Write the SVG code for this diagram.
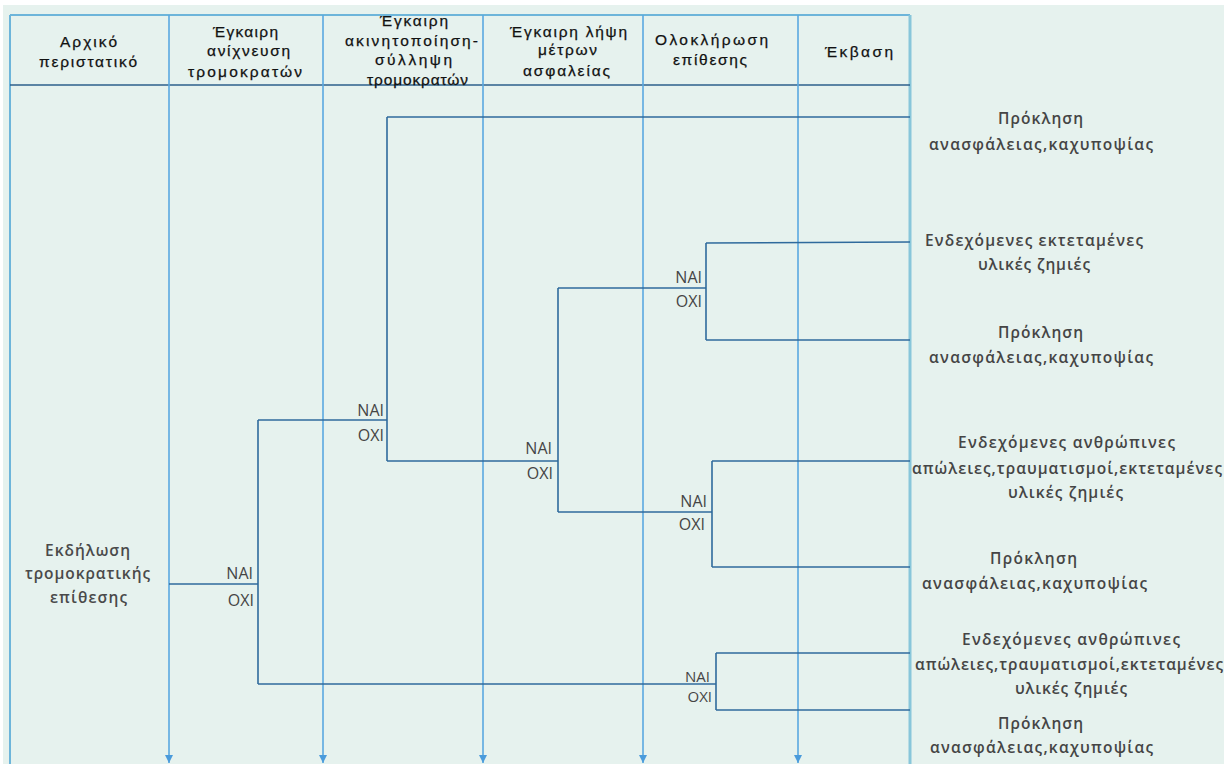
<svg xmlns="http://www.w3.org/2000/svg" width="1224" height="764" viewBox="0 0 1224 764">
<defs>
<marker id="arr" viewBox="0 0 8 8" refX="8" refY="4" markerWidth="8" markerHeight="8" markerUnits="userSpaceOnUse" orient="auto">
<path d="M0,0 L8,4 L0,8 Z" fill="#4A9BDB"/>
</marker>
<style>
.hd{font-family:"Liberation Sans",Arial,sans-serif;font-size:15.5px;fill:#111111;stroke:#111111;stroke-width:0.25}
.oc{font-family:"Open Sans","Liberation Sans",sans-serif;font-size:15.5px;font-weight:600;fill:#454545}
.yn{font-family:"Open Sans","Liberation Sans",sans-serif;font-size:16px;fill:#454545;text-anchor:end}
.col{stroke:#5AA8E0;stroke-width:1.6;fill:none}
.br{stroke:#6DB5DA;stroke-width:2;fill:none}
.ln{stroke:#2F6A9C;stroke-width:1.6;fill:none}
</style>
</defs>
<rect x="0" y="0" width="1224" height="764" fill="#ffffff"/>
<rect x="3" y="5" width="1221" height="759" fill="#E6F2EE"/>

<g id="frame">
<line class="br" x1="10" y1="15" x2="910" y2="15"/>
<line class="br" x1="10" y1="15" x2="10" y2="764"/>
<line x1="910" y1="15" x2="910" y2="764" stroke="#88C6DA" stroke-width="3"/>
<line x1="10" y1="85" x2="910" y2="85" stroke="#2D5F8B" stroke-width="1.6"/>
<line class="col" x1="169" y1="15" x2="169" y2="763" marker-end="url(#arr)"/>
<line class="col" x1="323" y1="15" x2="323" y2="763" marker-end="url(#arr)"/>
<line class="col" x1="483" y1="15" x2="483" y2="763" marker-end="url(#arr)"/>
<line class="col" x1="643" y1="15" x2="643" y2="763" marker-end="url(#arr)"/>
<line class="col" x1="798" y1="15" x2="798" y2="763" marker-end="url(#arr)"/>
</g>

<g id="header-1"><text class="hd"><tspan x="60" y="47" textLength="57" lengthAdjust="spacing">Αρχικό</tspan><tspan x="39" y="67" textLength="98" lengthAdjust="spacing">περιστατικό</tspan></text></g>
<g id="header-2"><text class="hd"><tspan x="213" y="37" textLength="65" lengthAdjust="spacing">Έγκαιρη</tspan><tspan x="207" y="56" textLength="83" lengthAdjust="spacing">ανίχνευση</tspan><tspan x="188" y="77" textLength="114" lengthAdjust="spacing">τρομοκρατών</tspan></text></g>
<g id="header-3"><text class="hd"><tspan x="380" y="26" textLength="68" lengthAdjust="spacing">Έγκαιρη</tspan><tspan x="345" y="46" textLength="133" lengthAdjust="spacing">ακινητοποίηση-</tspan><tspan x="375" y="65" textLength="77" lengthAdjust="spacing">σύλληψη</tspan><tspan x="367" y="85" textLength="101" lengthAdjust="spacing">τρομοκρατών</tspan></text></g>
<g id="header-4"><text class="hd"><tspan x="510" y="37" textLength="117" lengthAdjust="spacing">Έγκαιρη λήψη</tspan><tspan x="538" y="55" textLength="59" lengthAdjust="spacing">μέτρων</tspan><tspan x="523" y="76" textLength="87" lengthAdjust="spacing">ασφαλείας</tspan></text></g>
<g id="header-5"><text class="hd"><tspan x="655" y="45" textLength="113" lengthAdjust="spacing">Ολοκλήρωση</tspan><tspan x="673" y="65" textLength="74" lengthAdjust="spacing">επίθεσης</tspan></text></g>
<g id="header-6"><text class="hd"><tspan x="825" y="57" textLength="68" lengthAdjust="spacing">Έκβαση</tspan></text></g>

<g id="connectors">
<polyline class="ln" points="169,584 258,584"/>
<polyline class="ln" points="258,420 258,684"/>
<polyline class="ln" points="258,420 387,420"/>
<polyline class="ln" points="387,117 387,461"/>
<polyline class="ln" points="387,117 910,117"/>
<polyline class="ln" points="387,461 558,461"/>
<polyline class="ln" points="558,288 558,512"/>
<polyline class="ln" points="558,288 706,288"/>
<polyline class="ln" points="706,243 706,340"/>
<polyline class="ln" points="706,243 910,242"/>
<polyline class="ln" points="706,340 910,340"/>
<polyline class="ln" points="558,512 712,512"/>
<polyline class="ln" points="712,461 712,567"/>
<polyline class="ln" points="712,461 910,461"/>
<polyline class="ln" points="712,567 910,567"/>
<polyline class="ln" points="258,684 716,684"/>
<polyline class="ln" points="716,653 716,710"/>
<polyline class="ln" points="716,653 910,653"/>
<polyline class="ln" points="716,710 910,710"/>
</g>

<g id="start"><text class="oc" style="fill:#4a4a4a"><tspan x="45" y="556" textLength="85" lengthAdjust="spacing">Εκδήλωση</tspan><tspan x="25" y="579" textLength="125" lengthAdjust="spacing">τρομοκρατικής</tspan><tspan x="50" y="603" textLength="77" lengthAdjust="spacing">επίθεσης</tspan></text></g>

<g id="labels">
<text class="yn" x="253" y="579">NAI</text><text class="yn" x="254" y="606">OXI</text>
<text class="yn" x="384" y="416">NAI</text><text class="yn" x="384" y="441">OXI</text>
<text class="yn" x="552" y="454">NAI</text><text class="yn" x="553" y="479">OXI</text>
<text class="yn" x="702" y="283">NAI</text><text class="yn" x="702" y="307">OXI</text>
<text class="yn" x="707" y="507">NAI</text><text class="yn" x="705" y="530">OXI</text>
<text class="yn" x="710" y="682" style="font-size:15px">NAI</text><text class="yn" x="712" y="702" style="font-size:15px">OXI</text>
</g>

<g id="outcome-1"><text class="oc"><tspan x="998" y="124" textLength="85" lengthAdjust="spacing">Πρόκληση</tspan><tspan x="929" y="150" textLength="224" lengthAdjust="spacing">ανασφάλειας,καχυποψίας</tspan></text></g>
<g id="outcome-2"><text class="oc"><tspan x="925" y="246" textLength="218" lengthAdjust="spacing">Ενδεχόμενες εκτεταμένες</tspan><tspan x="978" y="270" textLength="112" lengthAdjust="spacing">υλικές ζημιές</tspan></text></g>
<g id="outcome-3"><text class="oc"><tspan x="998" y="338" textLength="85" lengthAdjust="spacing">Πρόκληση</tspan><tspan x="929" y="363" textLength="224" lengthAdjust="spacing">ανασφάλειας,καχυποψίας</tspan></text></g>
<g id="outcome-4"><text class="oc"><tspan x="958" y="448" textLength="217" lengthAdjust="spacing">Ενδεχόμενες ανθρώπινες</tspan><tspan x="912" y="474" textLength="310" lengthAdjust="spacing">απώλειες,τραυματισμοί,εκτεταμένες</tspan><tspan x="1008" y="498" textLength="115" lengthAdjust="spacing">υλικές ζημιές</tspan></text></g>
<g id="outcome-5"><text class="oc"><tspan x="990" y="564" textLength="87" lengthAdjust="spacing">Πρόκληση</tspan><tspan x="922" y="589" textLength="225" lengthAdjust="spacing">ανασφάλειας,καχυποψίας</tspan></text></g>
<g id="outcome-6"><text class="oc"><tspan x="962" y="645" textLength="218" lengthAdjust="spacing">Ενδεχόμενες ανθρώπινες</tspan><tspan x="915" y="670" textLength="308" lengthAdjust="spacing">απώλειες,τραυματισμοί,εκτεταμένες</tspan><tspan x="1015" y="694" textLength="112" lengthAdjust="spacing">υλικές ζημιές</tspan></text></g>
<g id="outcome-7"><text class="oc"><tspan x="998" y="729" textLength="85" lengthAdjust="spacing">Πρόκληση</tspan><tspan x="930" y="753" textLength="223" lengthAdjust="spacing">ανασφάλειας,καχυποψίας</tspan></text></g>
</svg>
